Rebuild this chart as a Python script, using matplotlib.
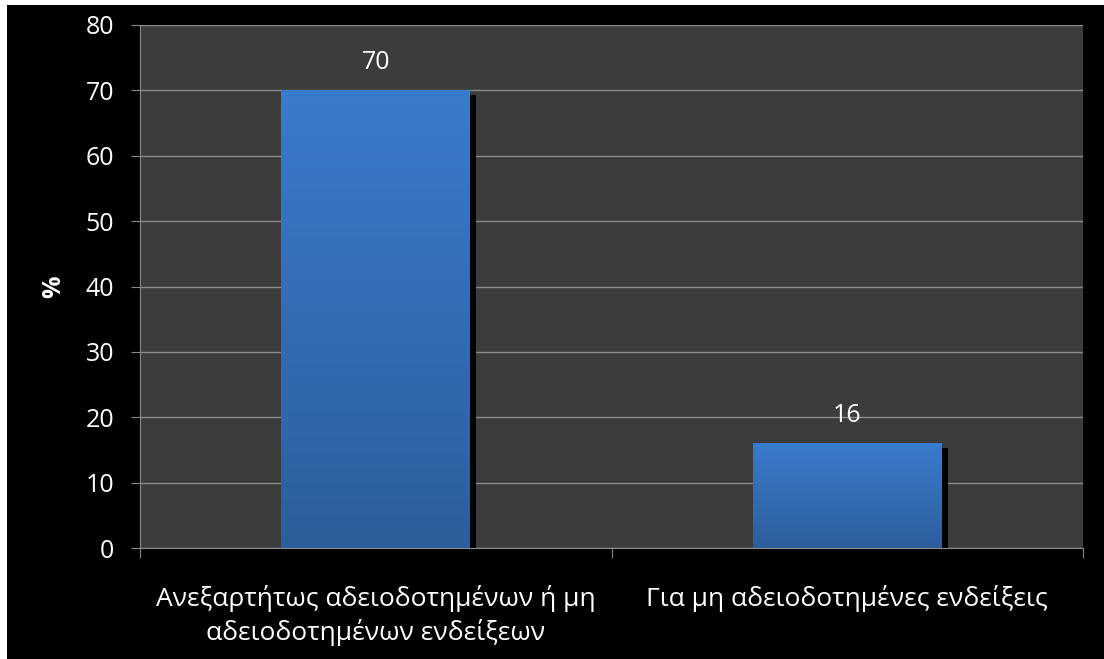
import numpy as np
import matplotlib
matplotlib.use("Agg")
import matplotlib.pyplot as plt
from matplotlib.patches import Rectangle
from matplotlib.colors import LinearSegmentedColormap
from matplotlib.transforms import ScaledTranslation

categories = ["Ανεξαρτήτως αδειοδοτημένων ή μη\nαδειοδοτημένων ενδείξεων",
              "Για μη αδειοδοτημένες ενδείξεις"]
values = [70, 16]
yticks = [0, 10, 20, 30, 40, 50, 60, 70, 80]

plt.rcParams['font.family'] = ['Open Sans', 'DejaVu Sans']
FS = 18

fig = plt.figure(figsize=(11.04, 6.59), dpi=100, facecolor="white")
# black slide background with thin white margin on the left/top
fig.add_artist(Rectangle((7 / 1104, 0), 1, 1 - 5 / 659, transform=fig.transFigure,
                         facecolor="black", edgecolor="none", zorder=0))

ax = fig.add_axes([140 / 1104, 1 - 548 / 659, (1083 - 140) / 1104, (548 - 25) / 659])
ax.set_facecolor("#3c3c3c")

x = np.arange(len(values))
bars = ax.bar(x, values, width=0.4, color="none", zorder=3)

cmap = LinearSegmentedColormap.from_list("blu", ["#2d5e9c", "#3a7bcb"])
grad = np.linspace(0, 1, 256).reshape(-1, 1)
for b in bars:
    x0, w, h = b.get_x(), b.get_width(), b.get_height()
    shadow = Rectangle((x0, 0), w, h, facecolor="black", edgecolor="none", zorder=2)
    ax.add_patch(shadow)
    shadow.set_transform(ax.transData + ScaledTranslation(6 / 100, -5 / 100, fig.dpi_scale_trans))
    ax.imshow(grad, extent=[x0, x0 + w, 0, h], origin="lower", cmap=cmap,
              aspect="auto", zorder=4)
for xi, v in zip(x, values):
    ax.text(xi, v + 2.3, str(v), ha="center", va="bottom", color="white", fontsize=FS)

ax.set_xlim(-0.5, 1.5)
ax.set_ylim(0, 80)
ax.set_yticks(yticks)
ax.set_yticklabels([str(t) for t in yticks], color="white", fontsize=FS)
ax.set_xticks([-0.5, 0.5, 1.5])
ax.set_xticklabels([])
ax.set_xticks(x, minor=True)
ax.set_xticklabels(categories, minor=True, color="white", fontsize=19, linespacing=1.3)
ax.tick_params(axis="x", which="minor", length=0, pad=27)
ax.tick_params(axis="x", which="major", length=7, color="#8a8a8a", direction="out")
ax.tick_params(axis="y", length=6.5, color="#8a8a8a", pad=12)
ax.yaxis.grid(True, color="#8a8a8a", linewidth=1, zorder=1)
ax.set_axisbelow(True)
for s in ["top", "right"]:
    ax.spines[s].set_visible(False)
for s in ["left", "bottom"]:
    ax.spines[s].set_color("#8a8a8a")
    ax.spines[s].set_zorder(5)

ax.set_ylabel("%", color="white", fontsize=FS, fontweight="bold", labelpad=14)

fig.savefig("out.png", dpi=100, facecolor=fig.get_facecolor())
